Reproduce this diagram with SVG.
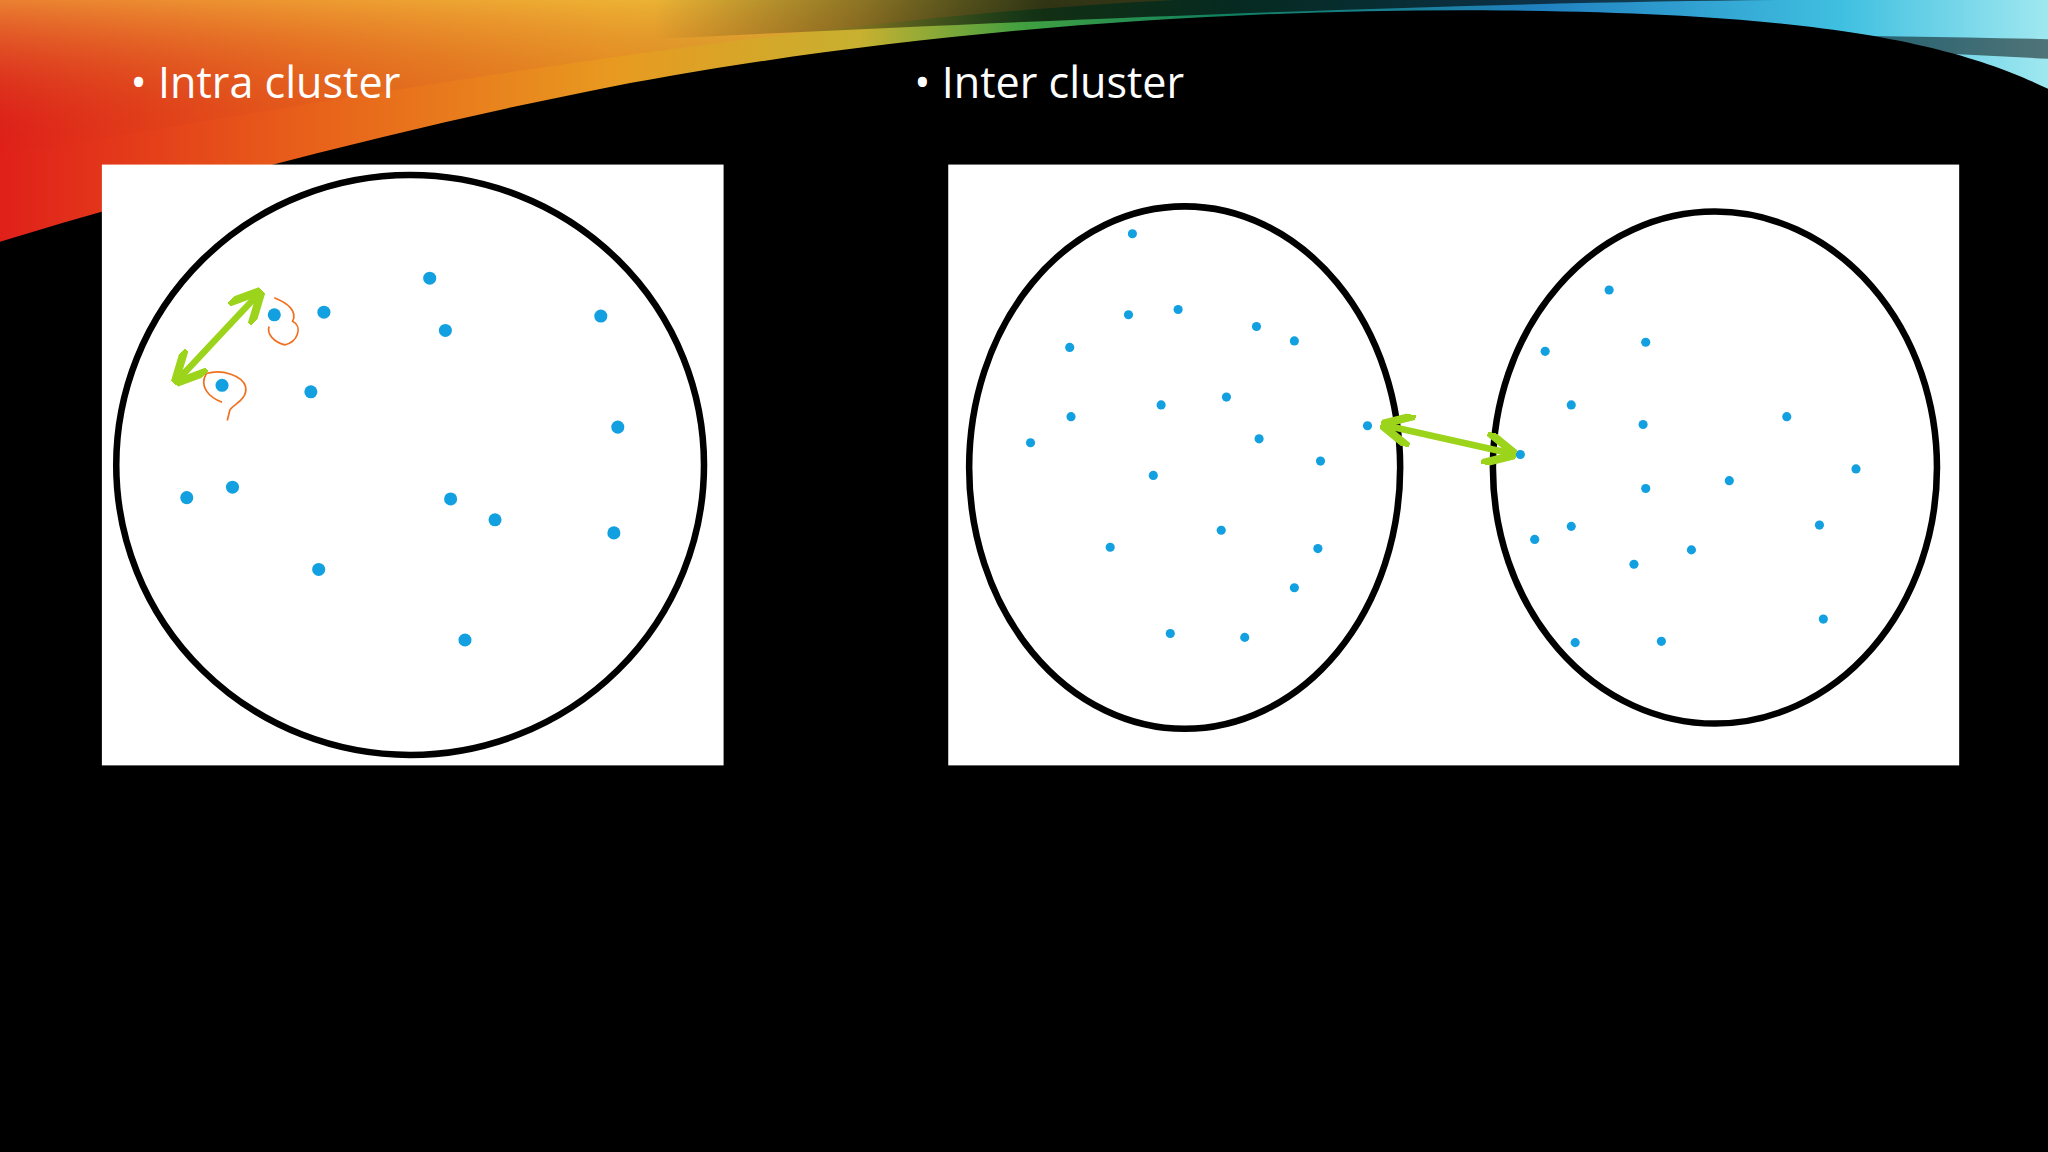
<svg xmlns="http://www.w3.org/2000/svg" width="2048" height="1152" viewBox="0 0 2048 1152">
<defs>
<linearGradient id="band" x1="0" y1="0" x2="1" y2="0">
<stop offset="0" stop-color="#e0201a"/><stop offset="0.15" stop-color="#e8601a"/><stop offset="0.3" stop-color="#e89a20"/><stop offset="0.42" stop-color="#c8b030"/><stop offset="0.5" stop-color="#40a040"/><stop offset="0.6" stop-color="#108060"/><stop offset="0.75" stop-color="#2080c0"/><stop offset="0.9" stop-color="#40c0e0"/><stop offset="1" stop-color="#a0e8f0"/>
</linearGradient>
<linearGradient id="vert" x1="0" y1="0" x2="0" y2="1">
<stop offset="0" stop-color="#f0c040" stop-opacity="0.6"/><stop offset="1" stop-color="#c01010" stop-opacity="0"/>
</linearGradient>
<linearGradient id="dark" x1="0" y1="0" x2="1" y2="0">
<stop offset="0" stop-color="#000" stop-opacity="0"/><stop offset="0.3" stop-color="#000" stop-opacity="0.7"/><stop offset="0.8" stop-color="#000" stop-opacity="0.6"/><stop offset="1" stop-color="#000" stop-opacity="0"/>
</linearGradient>
<marker id="ah" viewBox="0 0 10 10" refX="8" refY="5" markerWidth="5" markerHeight="5" orient="auto-start-reverse"><path d="M0,0 L10,5 L0,10" fill="none" stroke="#9cd41c" stroke-width="2.5"/></marker>
<style>
.t{font-family:"Open Sans","Liberation Sans",sans-serif;font-size:33px;fill:#fff}
.c{fill:none;stroke:#000;stroke-width:5}
.dl{fill:#13a0e0}
.g{stroke:#9cd41c;stroke-width:5;fill:none}
.o{stroke:#f07020;stroke-width:1.3;fill:none}
</style>
</defs>
<rect width="2048" height="1152" fill="#000"/>
<g transform="scale(1.30612)">
<path d="M0,0 H1568 V68 C1500,35 1400,10 1150,8 C900,6 650,30 450,70 C300,100 150,140 0,185 Z" fill="url(#band)"/>
<path d="M0,0 H900 C700,10 450,40 0,120 Z" fill="url(#vert)"/>
<path d="M500,0 H1500 C1300,-2 1000,5 500,30 Z" fill="url(#dark)"/>
<path d="M300,110 C600,40 900,15 1568,30 V45 C1100,20 700,40 300,110 Z" fill="#000" opacity="0.5"/>
<text class="t" x="100" y="75">• Intra cluster</text>
<text class="t" x="700" y="75">• Inter cluster</text>
<g id="left-panel">
<rect x="78" y="126" width="476" height="460" fill="#fff"/>
<ellipse class="c" cx="314" cy="356" rx="225" ry="222"/>
<g class="dl">
<circle cx="329" cy="213" r="5"/><circle cx="210" cy="241" r="5"/><circle cx="248" cy="239" r="5"/><circle cx="341" cy="253" r="5"/><circle cx="460" cy="242" r="5"/><circle cx="170" cy="295" r="5"/><circle cx="238" cy="300" r="5"/><circle cx="473" cy="327" r="5"/><circle cx="143" cy="381" r="5"/><circle cx="178" cy="373" r="5"/><circle cx="345" cy="382" r="5"/><circle cx="379" cy="398" r="5"/><circle cx="470" cy="408" r="5"/><circle cx="244" cy="436" r="5"/><circle cx="356" cy="490" r="5"/>
</g>
<path class="o" d="M210,228 C220,232 228,238 224,246 C232,250 228,262 218,264 C210,262 204,256 206,250"/>
<path class="o" d="M158,286 C170,282 186,288 188,296 C190,306 178,310 176,314 L174,322 M170,308 C160,304 152,296 158,286"/>
<line class="g" x1="137" y1="290" x2="197" y2="226" marker-start="url(#ah)" marker-end="url(#ah)"/>
</g>
<g id="right-panel">
<rect x="726" y="126" width="774" height="460" fill="#fff"/>
<ellipse class="c" cx="907" cy="358" rx="165" ry="200"/>
<ellipse class="c" cx="1313" cy="358" rx="170" ry="196"/>
<g class="dl">
<circle cx="867" cy="179" r="3.5"/><circle cx="864" cy="241" r="3.5"/><circle cx="902" cy="237" r="3.5"/><circle cx="962" cy="250" r="3.5"/><circle cx="991" cy="261" r="3.5"/><circle cx="819" cy="266" r="3.5"/><circle cx="820" cy="319" r="3.5"/><circle cx="889" cy="310" r="3.5"/><circle cx="939" cy="304" r="3.5"/><circle cx="964" cy="336" r="3.5"/><circle cx="789" cy="339" r="3.5"/><circle cx="1011" cy="353" r="3.5"/><circle cx="1047" cy="326" r="3.5"/><circle cx="883" cy="364" r="3.5"/><circle cx="935" cy="406" r="3.5"/><circle cx="850" cy="419" r="3.5"/><circle cx="1009" cy="420" r="3.5"/><circle cx="991" cy="450" r="3.5"/><circle cx="896" cy="485" r="3.5"/><circle cx="953" cy="488" r="3.5"/>
<circle cx="1232" cy="222" r="3.5"/><circle cx="1260" cy="262" r="3.5"/><circle cx="1183" cy="269" r="3.5"/><circle cx="1203" cy="310" r="3.5"/><circle cx="1258" cy="325" r="3.5"/><circle cx="1368" cy="319" r="3.5"/><circle cx="1164" cy="348" r="3.5"/><circle cx="1421" cy="359" r="3.5"/><circle cx="1260" cy="374" r="3.5"/><circle cx="1324" cy="368" r="3.5"/><circle cx="1203" cy="403" r="3.5"/><circle cx="1175" cy="413" r="3.5"/><circle cx="1393" cy="402" r="3.5"/><circle cx="1251" cy="432" r="3.5"/><circle cx="1295" cy="421" r="3.5"/><circle cx="1396" cy="474" r="3.5"/><circle cx="1206" cy="492" r="3.5"/><circle cx="1272" cy="491" r="3.5"/>
</g>
</g>
<g id="connectors">
<line class="g" x1="1062" y1="326" x2="1156" y2="347" marker-start="url(#ah)" marker-end="url(#ah)"/>
</g>
</g>
</svg>
